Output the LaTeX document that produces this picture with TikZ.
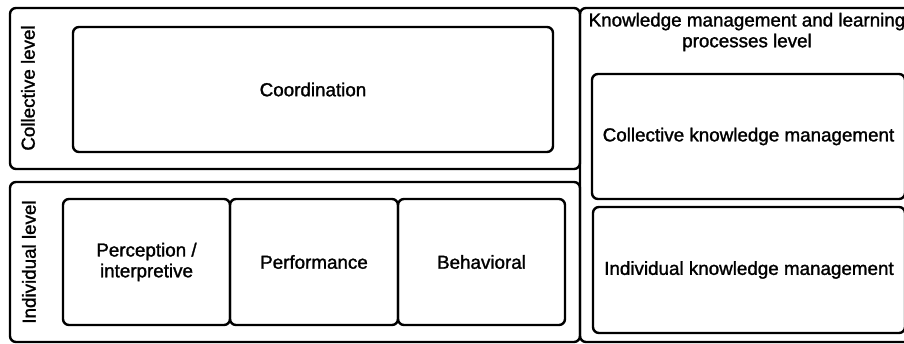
\documentclass[tikz,border=0pt]{standalone}
\usepackage{fontspec}
\setmainfont{Liberation Sans}
\usetikzlibrary{positioning}

% slightly heavier face for all labels
\font\diagfont="Liberation Sans:embolden=1.4" at 9.4pt

\tikzset{
  frame/.style={draw, line width=1.2pt, rounded corners=3pt, inner sep=0pt, outer sep=0pt},
  block/.style={frame, align=center, minimum height=62.5pt},
  lvl/.style={rotate=90},
}

\begin{document}
\begin{tikzpicture}[x=0.5pt, y=-0.5pt, font={\fontsize{9.4}{10.4}\selectfont\diagfont}]
\clip (0,0) rectangle (904,343);
\fill[white] (0,0) rectangle (904,343);

% collective level (top left)
\node[frame, minimum width=285pt, minimum height=80.5pt, anchor=north west] (coll) at (10,8) {};
\node[lvl] (colllbl) at (28,88) {Collective level};
\node[block, minimum width=240pt] (coord) at (313,89.5) {Coordination};

% individual level (bottom left)
\node[frame, minimum width=285pt, minimum height=80pt, anchor=north west] (indiv) at (10,182) {};
\node[lvl] (indivlbl) at (29,262) {Individual level};
\node[block, minimum width=83.5pt, minimum height=63pt, anchor=north west] (perc) at (63,199) {Perception /\\interpretive};
\node[block, minimum width=84pt, minimum height=63pt, right=0pt of perc] (perf) {Performance};
\node[block, minimum width=83.5pt, minimum height=63pt, right=0pt of perf] (behav) {Behavioral};

% knowledge management column
\node[frame, minimum width=169pt, minimum height=167pt, anchor=north west] (km) at (580,8) {};
\node[align=center, inner sep=0pt] (kmtitle) at (747,32) {Knowledge management and learning\\processes level};
\node[block, minimum width=156.5pt, anchor=north west] (ckm) at (592,74) {Collective knowledge management};
\node[block, minimum width=156pt, minimum height=63pt, anchor=north west] (ikm) at (593,207) {Individual knowledge management};
\end{tikzpicture}
\end{document}
